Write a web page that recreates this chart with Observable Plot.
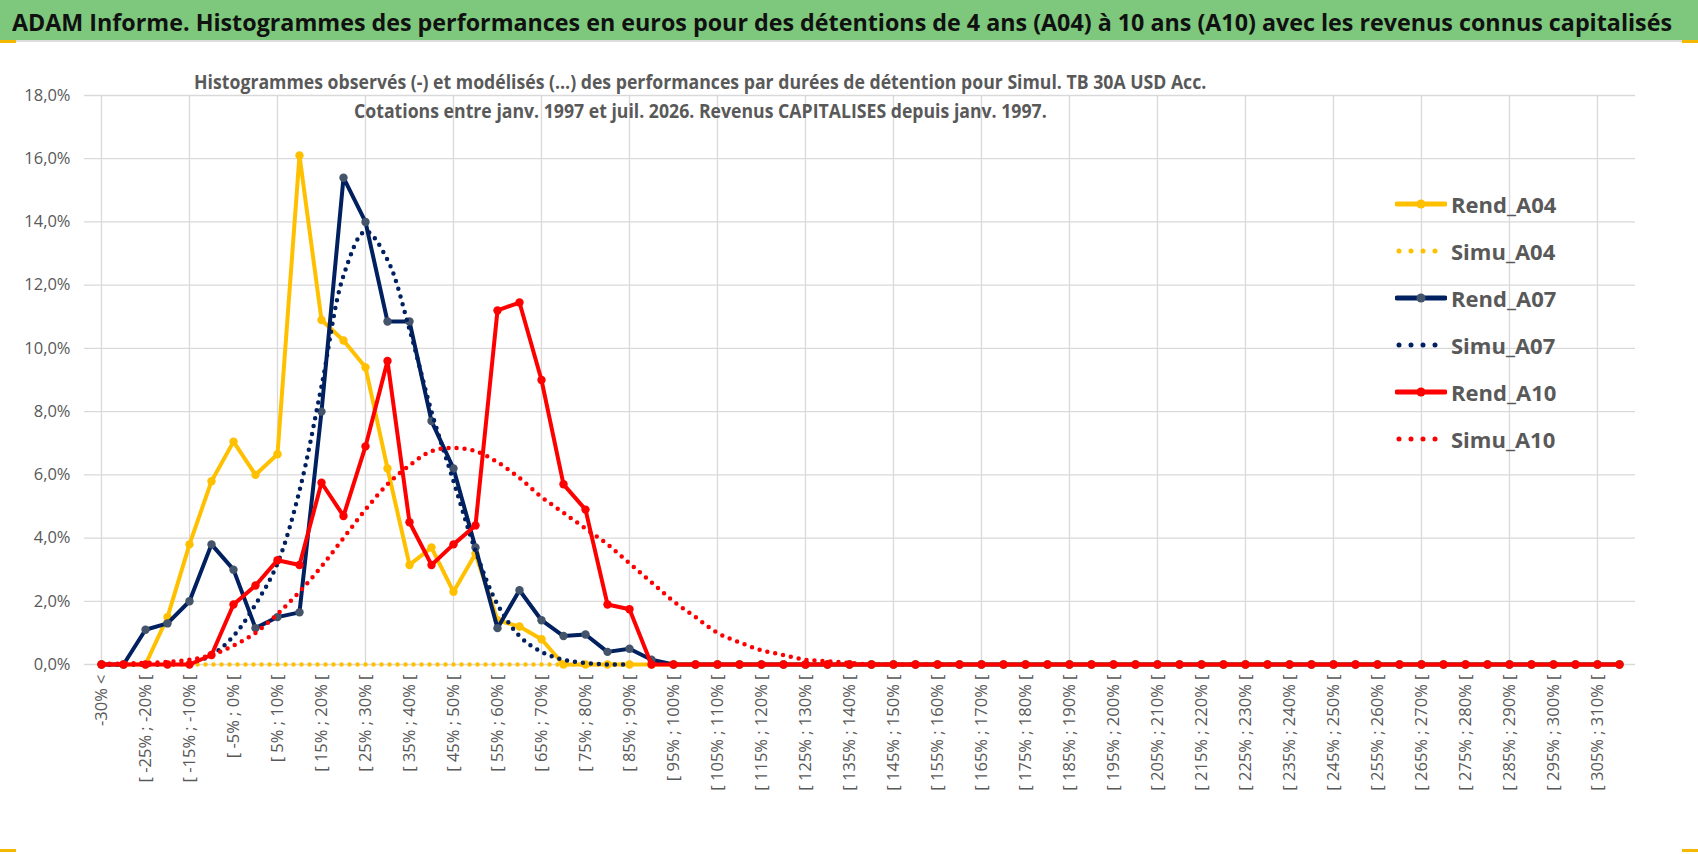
<!DOCTYPE html>
<html><head><meta charset="utf-8">
<script src="https://cdn.jsdelivr.net/npm/d3@7"></script>
<script src="https://cdn.jsdelivr.net/npm/@observablehq/plot@0.6"></script>
<style>
body{margin:0;background:#fff;width:1698px;height:854px;overflow:hidden;position:relative;font-family:"Open Sans",sans-serif;}
#bar{position:absolute;left:0;top:0;width:1698px;height:40px;background:#7dc87c;border-bottom:2px solid #ddd;}
#bar div{position:absolute;left:12px;top:5px;font-weight:bold;font-size:24px;color:#111;white-space:nowrap;transform-origin:left center;}
#sub{position:absolute;left:0;width:1400px;top:68px;text-align:center;font-weight:bold;font-size:19px;color:#595959;line-height:29px;}
#sub span{display:inline-block;transform:scaleX(0.93);white-space:nowrap;}
#chart{position:absolute;left:0;top:42px;}
#legend{position:absolute;left:1395px;top:180px;font-weight:bold;font-size:22px;color:#595959;}
.row{height:47px;display:flex;align-items:center;}
.row svg{margin-right:4px;}
.corner{position:absolute;background:#f5b800;}
</style></head><body>
<div id="bar"><div id="ttl">ADAM Informe. Histogrammes des performances en euros pour des détentions de 4 ans (A04) à 10 ans (A10) avec les revenus connus capitalisés</div></div>
<div class="corner" style="left:0;top:40px;width:16px;height:3px"></div>
<div class="corner" style="right:0;top:40px;width:16px;height:3px"></div>
<div class="corner" style="left:0;top:849px;width:16px;height:3px"></div>
<div class="corner" style="right:0;top:849px;width:16px;height:3px"></div>
<div id="chart"></div>
<div id="sub"><span>Histogrammes observés (-) et modélisés (…) des performances par durées de détention pour Simul. TB 30A USD Acc.</span><br><span>Cotations entre janv. 1997 et juil. 2026. Revenus CAPITALISES depuis janv. 1997.</span></div>
<div id="legend"></div>
<script>
// categories
const categories = ["-30% <"];
for (let a = -30; a < 315; a += 5) categories.push(`[ ${a}% ; ${a+5}% [`);

const rendA04 = [0,0,0,1.5,3.8,5.8,7.05,6.0,6.65,16.1,10.9,10.25,9.4,6.2,3.15,3.7,2.3,3.5,1.4,1.2,0.8,0,0,0,0];
const simuA04 = [0,0,0,0,0,0,0,0,0,0,0,0,0,0,0,0,0,0,0,0,0,0,0,0,0];
const rendA07 = [0,0,1.1,1.3,2.0,3.8,3.0,1.15,1.5,1.65,8.0,15.4,14.0,10.85,10.85,7.7,6.2,3.7,1.15,2.35,1.4,0.9,0.95,0.4,0.5,0.15,0];
const simuA07 = [0,0,0,0,0.05,0.3,0.9,1.9,3.2,5.5,8.8,12.3,13.7,12.8,10.6,8.0,5.8,3.6,1.9,0.9,0.4,0.15,0.05,0,0];
const rendA10 = [0,0,0,0,0,0.3,1.9,2.5,3.3,3.15,5.75,4.7,6.9,9.6,4.5,3.15,3.8,4.4,11.2,11.45,9.0,5.7,4.9,1.9,1.75,0];
const simuA10 = [0.02,0.03,0.05,0.08,0.15,0.3,0.6,1.0,1.6,2.3,3.1,4.0,4.9,5.7,6.3,6.75,6.85,6.75,6.4,5.9,5.3,4.8,4.3,3.8,3.2,2.6,2.0,1.5,1.0,0.7,0.45,0.3,0.15,0.1,0.05];
const yTicks = [0,2,4,6,8,10,12,14,16,18];

const full = arr => categories.map((c,i)=>({c, v:(i<arr.length?arr[i]:0)}));
const series = [
  {name:"Rend_A04", data:full(rendA04), color:"#ffc000", dot:null, dotted:false},
  {name:"Simu_A04", data:full(simuA04).slice(0,25), color:"#ffc000", dotted:true},
  {name:"Rend_A07", data:full(rendA07), color:"#002060", dot:"#44546a", dotted:false},
  {name:"Simu_A07", data:full(simuA07).slice(0,25), color:"#002060", dotted:true},
  {name:"Rend_A10", data:full(rendA10), color:"#ff0000", dot:null, dotted:false},
  {name:"Simu_A10", data:full(simuA10).slice(0,40), color:"#ff0000", dotted:true},
];
const marks = [
  Plot.ruleY(yTicks, {stroke:"#d9d9d9", strokeWidth:1.3}),
  Plot.ruleX(categories.filter((c,i)=>i%4===0), {stroke:"#d9d9d9", strokeWidth:1.3}),
];
for (const s of series) {
  if (s.dotted) {
    marks.push(Plot.line(s.data,{x:"c",y:"v",stroke:s.color,strokeWidth:4.5,strokeDasharray:"0,8",strokeLinecap:"round",curve:"catmull-rom"}));
  } else {
    marks.push(Plot.line(s.data,{x:"c",y:"v",stroke:s.color,strokeWidth:4}));
    marks.push(Plot.dot(s.data,{x:"c",y:"v",r:4.2,fill:s.dot||s.color,stroke:null}));
  }
}
const plot = Plot.plot({
  width:1698, height:812,
  marginLeft:84, marginRight:63, marginTop:53, marginBottom:190,
  style:{fontFamily:"Open Sans, sans-serif", fontSize:"16.5px", color:"#595959", background:"transparent"},
  x:{type:"point", domain:categories, label:null, tickRotate:-90, tickSize:0, tickPadding:10,
     tickFormat:(d,i)=> (categories.indexOf(d)%2===0 ? d : "")},
  y:{domain:[0,18], ticks:yTicks, label:null, tickSize:0, tickPadding:14,
     tickFormat:d=>d.toFixed(1).replace(".",",")+"%"},
  marks
});
document.getElementById("chart").appendChild(plot);

const lg = document.getElementById("legend");
for (const s of series) {
  const row = document.createElement("div"); row.className="row";
  const sw = s.dotted
    ? `<svg width="52" height="12"><line x1="4" y1="6" x2="50" y2="6" stroke="${s.color}" stroke-width="5" stroke-dasharray="0,12" stroke-linecap="round"/></svg>`
    : `<svg width="52" height="12"><line x1="2" y1="6" x2="50" y2="6" stroke="${s.color}" stroke-width="5" stroke-linecap="round"/><circle cx="26" cy="6" r="4.5" fill="${s.dot||s.color}"/></svg>`;
  row.innerHTML = sw + `<span>${s.name}</span>`;
  lg.appendChild(row);
}
const t = document.getElementById("ttl");
const w = t.getBoundingClientRect().width;
if (w > 1660) t.style.transform = `scaleX(${1660/w})`;
</script>
</body></html>
